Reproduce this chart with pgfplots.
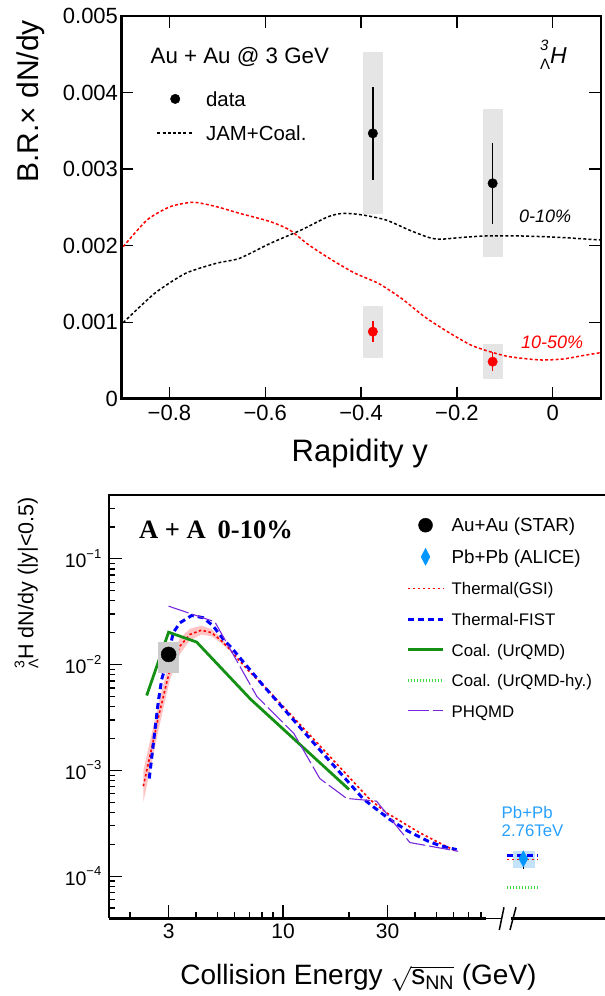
\documentclass[border=0pt]{standalone}
\usepackage{fontspec}
\setmainfont{Liberation Sans}
\newfontfamily\timesfont{Liberation Serif}
\usepackage{pgfplots}
\pgfplotsset{compat=1.18}
\definecolor{sysgray}{RGB}{229,229,229}
\definecolor{stargray}{RGB}{204,204,204}
\definecolor{urqmdgreen}{RGB}{20,145,20}
\definecolor{hygreen}{RGB}{60,220,60}
\definecolor{phqmdcol}{RGB}{120,40,220}
\definecolor{alice}{RGB}{0,150,255}
\definecolor{alicetext}{RGB}{40,160,255}
\definecolor{alicebox}{RGB}{196,226,250}
\definecolor{pinkband}{RGB}{255,195,195}
\newcommand{\fs}[1]{\fontsize{#1}{#1}\selectfont}
\newcommand{\tenpow}[1]{10\raisebox{0.5em}{\fs{13}−#1}}
\tikzset{
  gsi/.style={red, line width=1.6pt, dash pattern=on 2.5pt off 2.5pt},
  fist/.style={blue, line width=3pt, dash pattern=on 6pt off 4pt},
  urqmd/.style={urqmdgreen, line width=2.8pt},
  urqmdhy/.style={hygreen, line width=3pt, dash pattern=on 1.2pt off 1.8pt},
  phqmd/.style={phqmdcol, line width=1.1pt, dash pattern=on 21pt off 4pt},
  txt/.style={inner sep=0pt}
}
\begin{document}
\begin{tikzpicture}
\useasboundingbox (0pt,0pt) rectangle (605pt,996pt);
% ---------------- top panel ----------------
\begin{axis}[
  at={(121.5pt,597.3pt)}, anchor=south west, scale only axis,
  width=479.2pt, height=382.7pt,
  xmin=-0.9, xmax=0.1, ymin=0, ymax=0.005,
  xtick={-0.8,-0.6,-0.4,-0.2,0}, xticklabels={−0.8,−0.6,−0.4,−0.2,0},
  ytick={0,0.001,0.002,0.003,0.004,0.005},
  yticklabels={0,0.001,0.002,0.003,0.004,0.005},
  scaled y ticks=false, minor tick num=0,
  tick align=inside, major tick length=12pt,
  tick style={line width=1.3pt, color=black},
  axis line style={line width=2.4pt},
  xticklabel style={font=\fs{22}, yshift=-3pt},
  yticklabel style={font=\fs{22}},
  legend cell align=left,
  legend image code/.code={\draw[mark repeat=2,mark phase=2,#1] plot coordinates {(0pt,0pt) (17.75pt,0pt) (35.5pt,0pt)}; \path (0pt,0pt) (47.9pt,0pt);},
  legend style={draw=none, fill=none, at={(0.0668,0.8113)}, anchor=north west,
    font=\fs{20.4}, row sep=17.3pt, nodes={inner sep=0pt, text height=16pt, text depth=1pt}},
]
\addplot[fill=sysgray, draw=none, forget plot] coordinates {(-0.395,0.002417) (-0.355,0.002417) (-0.355,0.004526) (-0.395,0.004526)} -- cycle;
\addplot[fill=sysgray, draw=none, forget plot] coordinates {(-0.1456,0.001851) (-0.1046,0.001851) (-0.1046,0.003781) (-0.1456,0.003781)} -- cycle;
\addplot[fill=sysgray, draw=none, forget plot] coordinates {(-0.395,0.000536) (-0.355,0.000536) (-0.355,0.001215) (-0.395,0.001215)} -- cycle;
\addplot[fill=sysgray, draw=none, forget plot] coordinates {(-0.1456,0.000257) (-0.1046,0.000257) (-0.1046,0.000715) (-0.1456,0.000715)} -- cycle;
\addplot[black, line width=1.5pt, dash pattern=on 3pt off 2.2pt, smooth, tension=0.4, forget plot] coordinates {
(-0.8965,0.000993) (-0.8306,0.001377) (-0.7662,0.001638) (-0.702,0.001769) (-0.6537,0.001834)
(-0.5893,0.00203) (-0.525,0.002204) (-0.4688,0.002378) (-0.4366,0.002422) (-0.3964,0.0024)
(-0.3482,0.002335) (-0.2999,0.002204) (-0.2598,0.002108) (-0.2357,0.002083) (-0.1874,0.002108)
(-0.1391,0.002126) (-0.0668,0.002126) (0.0135,0.002108) (0.0996,0.002073)};
\addplot[red, line width=1.5pt, dash pattern=on 3pt off 2.2pt, smooth, tension=0.4, forget plot] coordinates {
(-0.8965,0.001986) (-0.8466,0.002335) (-0.7983,0.002509) (-0.7501,0.002566) (-0.702,0.002509)
(-0.6537,0.002422) (-0.5893,0.002313) (-0.5491,0.002204) (-0.509,0.002008) (-0.4607,0.001812)
(-0.4125,0.001638) (-0.3643,0.001508) (-0.316,0.001312) (-0.2678,0.001071) (-0.2196,0.000875)
(-0.1713,0.000702) (-0.1311,0.000614) (-0.0909,0.000549) (-0.0266,0.000506) (0.0216,0.000519)
(0.0699,0.000571) (0.0996,0.000601)};
\addplot[black, only marks, mark=*, mark size=4.75pt, forget plot,
  error bars/.cd, y dir=both, y explicit, error bar style={line width=1.5pt}, error mark=none]
  coordinates {(-0.3755,0.003467) +- (0,0.00061) (-0.1255,0.002814) +- (0,0.00053)};
\addplot[red, only marks, mark=*, mark size=4.75pt, forget plot,
  error bars/.cd, y dir=both, y explicit, error bar style={line width=1.5pt}, error mark=none]
  coordinates {(-0.3755,0.000876) +- (0,0.00014) (-0.1255,0.000484) +- (0,0.00012)};
\addlegendimage{black, only marks, mark=*, mark size=4.75pt}
\addlegendentry{data}
\addlegendimage{black, line width=1.5pt, dash pattern=on 3pt off 2.2pt}
\addlegendentry{JAM+Coal.}
\end{axis}
\node[txt, anchor=base west, font=\fs{22.3}] at (150.5pt,932.7pt) {Au + Au @ 3 GeV};
\node[txt, anchor=base west, font=\fs{23}] at (540pt,932.7pt) {{\fs{15}\rlap{\raisebox{13pt}{\itshape 3}}\raisebox{-6.7pt}{Λ}}\textit{H}};
\node[txt, anchor=base west, font=\fs{18}\itshape] at (519pt,773.3pt) {0-10\%};
\node[txt, anchor=base west, font=\fs{18}\itshape, text=red] at (521pt,647.7pt) {10-50\%};
\node[txt, anchor=base east, rotate=90, font=\fs{30}] at (38.6pt,976pt) {B.R.× dN/dy};
\node[txt, anchor=center, font=\fs{31}] at (359.8pt,543pt) {Rapidity y};
% ---------------- bottom panel ----------------
\begin{axis}[
  at={(108.8pt,77.7pt)}, anchor=south west, scale only axis,
  width=496.2pt, height=423.3pt,
  xmode=log, ymode=log, xmin=1.6, xmax=295, ymin=4e-5, ymax=0.4,
  axis x line*=bottom, axis y line*=left,
  axis line style={line width=2.4pt},
  x axis line style={-}, y axis line style={-},
  xtick={3,10,30}, xticklabels={3,10,30},
  minor xtick={2,4,5,6,7,8,9,20,40,50,60,70,80},
  ytick={1e-4,1e-3,1e-2,1e-1},
  yticklabels={\tenpow{4},\tenpow{3},\tenpow{2},\tenpow{1}},
  minor ytick={5e-5,6e-5,7e-5,8e-5,9e-5,2e-4,3e-4,4e-4,5e-4,6e-4,7e-4,8e-4,9e-4,2e-3,3e-3,4e-3,5e-3,6e-3,7e-3,8e-3,9e-3,0.02,0.03,0.04,0.05,0.06,0.07,0.08,0.09,0.2,0.3,0.4},
  tick align=inside, major tick length=13pt, minor tick length=6.5pt,
  tick style={line width=1.3pt, color=black},
  xticklabel style={font=\fs{21}, yshift=-2pt},
  yticklabel style={font=\fs{19.5}, xshift=-4pt},
  legend cell align=left,
  legend image code/.code={\draw[mark repeat=2,mark phase=2,#1] plot coordinates {(0pt,0pt) (17.85pt,0pt) (35.7pt,0pt)}; \path (0pt,0pt) (42.5pt,0pt);},
  legend style={draw=none, fill=none, at={(0.5929,0.9515)}, anchor=north west,
    font=\fs{16.8}, row sep=15.6pt, nodes={inner sep=0pt, text height=14pt, text depth=1pt}},
]
\addplot[fill=pinkband, draw=none, forget plot] coordinates {
(2.30,9.9e-4) (2.582,2.85e-3) (2.692,4.2e-3) (2.889,7.5e-3) (3.044,1.13e-2) (3.381,1.77e-2)
(3.754,2.18e-2) (4.24,2.33e-2) (4.71,2.16e-2) (5.147,1.83e-2) (5.71,1.43e-2)
(5.71,1.35e-2) (5.147,1.63e-2) (4.71,1.85e-2) (4.24,1.92e-2) (3.754,1.70e-2) (3.381,1.26e-2)
(3.044,7.2e-3) (2.889,4.5e-3) (2.692,2.35e-3) (2.582,1.55e-3) (2.30,5.0e-4)} -- cycle;
\addplot[gsi, forget plot] coordinates {
(2.30,7.09e-4) (2.582,2.106e-3) (2.692,3.143e-3) (2.889,5.815e-3) (3.044,8.99e-3) (3.381,0.01492)
(3.754,0.01925) (4.24,0.02114) (4.71,0.0200) (5.147,0.01727) (5.71,0.01389) (6.34,0.01077)
(7.04,8.5e-3) (8.41,5.9e-3) (24.9,5.31e-4) (29.7,3.97e-4) (35.3,3.2e-4) (42.1,2.57e-4)
(50.0,2.14e-4) (61,1.74e-4)};
\addplot[fist, forget plot] coordinates {
(2.448,8.38e-4) (2.694,4.51e-3) (2.79,7.24e-3) (2.94,0.0104) (3.15,0.0200) (3.38,0.0248)
(3.83,0.0291) (4.31,0.0277) (4.77,0.0234) (5.34,0.0173) (5.9,0.0139) (6.53,0.0108)
(7.98,6.6e-3) (13.6,1.877e-3) (23.2,5.39e-4) (25.8,4.53e-4) (30.7,3.44e-4) (37.2,2.66e-4)
(46,2.14e-4) (51.9,1.95e-4) (62,1.78e-4)};
\addplot[urqmd, forget plot] coordinates {
(2.383,0.0051) (3.0,0.0202) (4.03,0.0163) (7.12,4.68e-3) (20.0,6.6e-4)};
\addplot[phqmd, forget plot] coordinates {
(3.0,0.0356) (4.88,0.0253) (7.59,4.99e-3) (11.2,2.23e-3) (14.7,8.38e-4) (19.5,5.43e-4)
(26.7,5.12e-4) (37.9,2.08e-4) (63.0,1.72e-4)};
% STAR
\addplot[fill=stargray, draw=none, forget plot] coordinates {(2.674,0.00836) (3.334,0.00836) (3.334,0.0164) (2.674,0.0164)} -- cycle;
\addplot[black, only marks, mark=*, mark size=7.5pt, forget plot] coordinates {(3.0,0.01246)};
% ALICE
\addplot[fill=alicebox, draw=none, forget plot] coordinates {(112.2,1.2e-4) (141.3,1.2e-4) (141.3,1.72e-4) (112.2,1.72e-4)} -- cycle;
\addplot[fist, forget plot] coordinates {(105.2,1.57e-4) (144.3,1.57e-4)};
\addplot[gsi, forget plot] coordinates {(105.2,1.44e-4) (146,1.44e-4)};
\addplot[urqmdhy, forget plot] coordinates {(105.2,7.87e-5) (146.3,7.87e-5)};
\addplot[alice, only marks, mark=diamond*, mark size=8pt, mark options={xscale=0.75}, forget plot,
  error bars/.cd, y dir=minus, y explicit, error bar style={black, line width=1pt}, error mark=none]
  coordinates {(125,1.46e-4) -= (0,0.29e-4)};
% legend
\addlegendimage{black, only marks, mark=*, mark size=7pt}
\addlegendentry{\fs{18.8}Au+Au (STAR)}
\addlegendimage{alice, only marks, mark=diamond*, mark size=8.5pt, mark options={xscale=0.7}}
\addlegendentry{\fs{18.8}Pb+Pb (ALICE)}
\addlegendimage{gsi}
\addlegendentry{Thermal(GSI)}
\addlegendimage{fist}
\addlegendentry{Thermal-FIST}
\addlegendimage{urqmd}
\addlegendentry{Coal. (UrQMD)}
\addlegendimage{urqmdhy}
\addlegendentry{Coal. (UrQMD-hy.)}
\addlegendimage{phqmd}
\addlegendentry{PHQMD}
\end{axis}
% top frame line of bottom panel
\draw[line width=2.4pt] (107.6pt,501pt) -- (605pt,501pt);
% axis break
\fill[white] (486pt,72pt) rectangle (511pt,83pt);
\draw[line width=1pt] (486pt,77.7pt) -- (501pt,77.7pt);
\draw[line width=1.5pt] (499.3pt,66pt) -- (504pt,88.7pt);
\draw[line width=1.5pt] (510pt,66pt) -- (516pt,88.7pt);
% texts
\node[txt, anchor=base west, font=\fs{26.5}\timesfont\bfseries] at (139pt,457.7pt) {A + A\hspace{0.45em}0-10\%};
\node[txt, anchor=base west, font=\fs{16.8}, text=alicetext] at (501.5pt,177.7pt) {Pb+Pb};
\node[txt, anchor=base west, font=\fs{16.8}, text=alicetext] at (501.5pt,159.3pt) {2.76TeV};
\node[txt, anchor=base east, rotate=90, font=\fs{21.5}] at (33.3pt,499pt) {{\fs{14}\rlap{\raisebox{9pt}{3}}\raisebox{-5pt}{Λ}}H dN/dy (|y|<0.5)};
\node[txt, anchor=base, font=\fs{28}] at (358.5pt,11pt) {Collision Energy \ensuremath{\sqrt{\mbox{s\textsubscript{NN}}}} (GeV)};
\end{tikzpicture}
\end{document}
